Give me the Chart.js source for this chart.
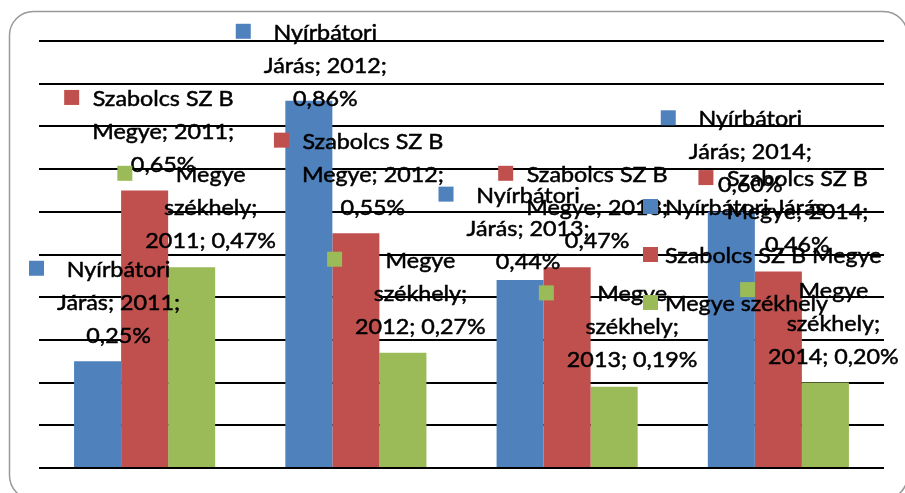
<!DOCTYPE html>
<html lang="hu">
<head>
<meta charset="UTF-8">
<title>Nyírbátori Járás</title>
<script src="https://cdn.jsdelivr.net/npm/chart.js"></script>
<style>
  body, html { margin: 0; padding: 0; background: #fff; }
  .wrap { position: relative; width: 905px; height: 493px; }
</style>
</head>
<body>
<div class="wrap"><canvas id="chart"></canvas></div>
<script>
// data
const years = ['2011', '2012', '2013', '2014'];
const seriesNames = ['Nyírbátori Járás', 'Szabolcs SZ B Megye', 'Megye székhely'];
const jaras = [0.25, 0.86, 0.44, 0.60];
const megye = [0.65, 0.55, 0.47, 0.46];
const szekhely = [0.47, 0.27, 0.19, 0.20];
const yMin = 0, yMax = 1.0, yStep = 0.1;

const colors = ['#4F81BD', '#C0504D', '#9BBB59'];
const FONT = '22px Lato';
const LINE_H = 33;

// how Excel wrapped each series' label ({c} = year, {v} = value)
const labelTemplates = [
  ['Nyírbátori', 'Járás; {c};', '{v}'],
  ['Szabolcs SZ B', 'Megye; {c};', '{v}'],
  ['Megye', 'székhely;', '{c}; {v}']
];
// label text centre / first line middle, relative to bar top centre
const labelOffsets = [
  [[21, -93], [16.5, -69.5], [8, -86], [19, -94]],
  [[18.5, -93], [17, -93], [30, -94], [19, -94]],
  [[19, -94], [17.5, -93.5], [18, -94], [8, -93]]
];

const fmt = v => v.toFixed(2).replace('.', ',') + '%';

function drawText(ctx, t, x, y, sx, align) {
  ctx.save();
  ctx.translate(x, y);
  ctx.scale(sx, 1);
  ctx.textAlign = align;
  ctx.textBaseline = 'alphabetic';
  ctx.fillText(t, 0, 0);
  ctx.lineWidth = 0.5;
  ctx.strokeStyle = '#000';
  ctx.strokeText(t, 0, 0);
  ctx.restore();
}

const framePlugin = {
  id: 'frame',
  beforeDraw(chart) {
    const ctx = chart.ctx;
    ctx.save();
    ctx.strokeStyle = '#999';
    ctx.lineWidth = 1.5;
    ctx.beginPath();
    ctx.roundRect(9.5, 11.5, 898, 488, 24);
    ctx.stroke();
    ctx.restore();
  }
};

const labelPlugin = {
  id: 'excelLabels',
  afterDatasetsDraw(chart) {
    const ctx = chart.ctx;
    ctx.save();
    ctx.font = FONT;
    const sx = 141 / ctx.measureText('Szabolcs SZ B').width;
    chart.data.datasets.forEach((ds, di) => {
      const meta = chart.getDatasetMeta(di);
      meta.data.forEach((bar, i) => {
        const lines = labelTemplates[di].map(l => l.replace('{c}', years[i]).replace('{v}', fmt(ds.data[i])));
        const off = labelOffsets[di][i];
        const cx = bar.x + off[0], cy = bar.y + off[1];
        const maxW = Math.max(...lines.map(l => ctx.measureText(l).width)) * sx;
        ctx.fillStyle = colors[di];
        ctx.fillRect(cx - maxW / 2 - 13 - 15, cy - 7.5, 15, 15);
        ctx.fillStyle = '#000';
        lines.forEach((l, k) => drawText(ctx, l, cx, cy + 8.5 + k * LINE_H, sx, 'center'));
      });
    });

    // legend, sitting inside the plot like in the original
    seriesNames.forEach((name, k) => {
      const y = 206.5 + k * 48;
      ctx.fillStyle = colors[k];
      ctx.fillRect(643, y - 7.5, 15, 15);
      ctx.fillStyle = '#000';
      drawText(ctx, name, 665, y + 8.5, sx, 'left');
    });
    ctx.restore();
  }
};

new Chart(document.getElementById('chart'), {
  type: 'bar',
  data: {
    labels: years,
    datasets: [
      { label: seriesNames[0], data: jaras, backgroundColor: colors[0] },
      { label: seriesNames[1], data: megye, backgroundColor: colors[1] },
      { label: seriesNames[2], data: szekhely, backgroundColor: colors[2] }
    ]
  },
  options: {
    responsive: true,
    maintainAspectRatio: false,
    animation: false,
    layout: { padding: { left: 39, right: 21, top: 41, bottom: 25 } },
    datasets: { bar: { categoryPercentage: 0.668, barPercentage: 1.0 } },
    plugins: {
      legend: { display: false },
      tooltip: { enabled: false },
      title: { display: false }
    },
    scales: {
      x: {
        grid: { display: false, drawTicks: false },
        border: { display: false },
        ticks: { display: false }
      },
      y: {
        min: yMin, max: yMax,
        grid: { color: '#000', lineWidth: 2, drawTicks: false },
        border: { display: false },
        ticks: { display: false, stepSize: yStep }
      }
    }
  },
  plugins: [framePlugin, labelPlugin]
});
</script>
</body>
</html>
